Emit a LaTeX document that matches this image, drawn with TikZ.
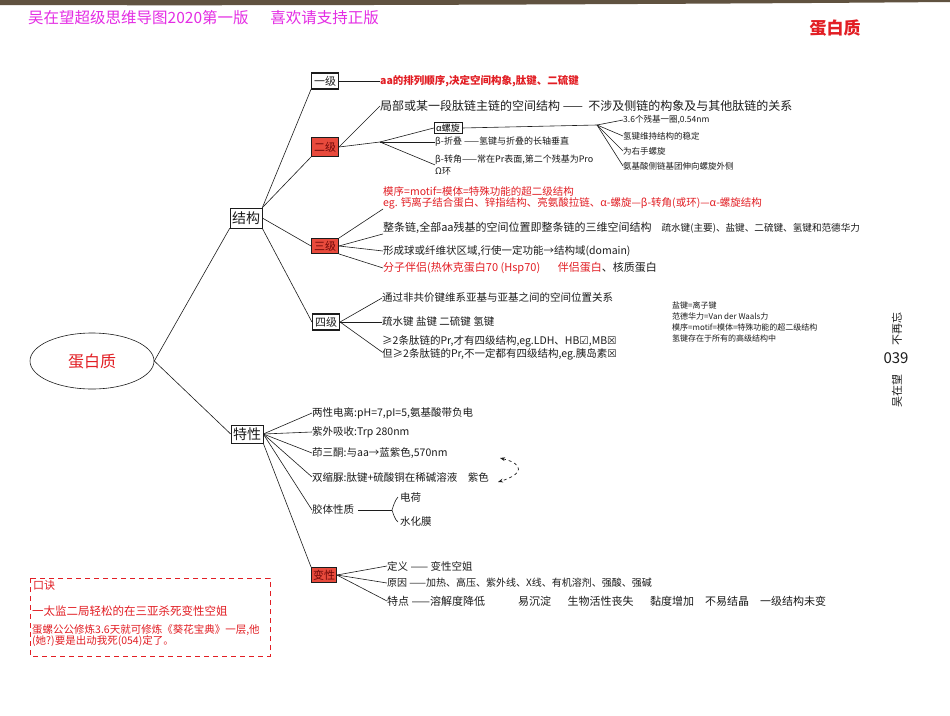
\documentclass[tikz,border=0pt]{standalone}
\usepackage{fontspec}
\setmainfont{Noto Sans CJK SC}
\newfontfamily\symfont{DejaVu Sans}
\usetikzlibrary{calc,shapes.geometric,arrows.meta}
\definecolor{ink}{RGB}{28,28,28}
\definecolor{hred}{RGB}{226,30,36}
\definecolor{boxred}{RGB}{232,74,60}
\definecolor{dred}{RGB}{110,8,8}
\definecolor{magenta}{RGB}{228,44,228}
\definecolor{paper}{RGB}{96,82,64}
\tikzset{
  lvlbox/.style={draw=ink, line width=1.1pt, fill=white, inner sep=1pt, text=ink,
                 font=\fontsize{11}{12}\selectfont},
  redbox/.style={draw=ink, line width=0.9pt, fill=boxred, inner sep=1pt, text=dred,
                 font=\fontsize{11}{12}\selectfont},
  topbox/.style={draw=ink, line width=0.6pt, fill=white, inner sep=1pt, text=ink,
                 font=\fontsize{14}{15}\selectfont},
  txt/.style={anchor=west, inner sep=0pt, text=ink, font=\fontsize{10.5}{11}\selectfont},
  redtxt/.style={txt, text=hred},
  small/.style={txt, font=\fontsize{8.5}{10}\selectfont},
  link/.style={draw=ink, line width=0.6pt},
}

\begin{document}
\begin{tikzpicture}[x=1pt,y=-1pt]
  \useasboundingbox (0,0) rectangle (950,715);
  \fill[white] (0,0) rectangle (950,715);
  % scanned paper edge
  \fill[paper] (0,0) -- (950,0) -- (950,2) .. controls (700,4) and (300,6) .. (0,5) -- cycle;

  % ---- headings ------------------------------------------------------
  \node[anchor=west, inner sep=0pt, text=magenta, font=\fontsize{15.5}{16}\selectfont] (head) at (28,18)
    {吴在望超级思维导图2020第一版\hspace{1.4em}喜欢请支持正版};
  \node[text=hred, font=\fontsize{17}{18}\selectfont\bfseries] (corner) at (835,28) {蛋白质};

  % ---- root and two main branches -----------------------------------
  \node[ellipse, draw=ink, line width=0.6pt, minimum width=124, minimum height=56, text=hred,
        font=\fontsize{16}{17}\selectfont] (root) at (92,361) {蛋白质};
  \node[topbox, minimum width=32, minimum height=20] (jg) at (246,218) {结构};
  \node[topbox, minimum width=32, minimum height=18] (tx) at (247,434) {特性};
  \draw[link] (root.east) -- (jg.south west);
  \draw[link] (root.east) -- (tx.west);

  % ---- structure levels ---------------------------------------------
  \node[lvlbox, minimum width=27, minimum height=16] (yj) at (325,81) {一级};
  \node[redbox, minimum width=27, minimum height=19] (ej) at (325,147) {二级};
  \node[redbox, minimum width=27, minimum height=15] (sj) at (325,246) {三级};
  \node[lvlbox, minimum width=27, minimum height=16] (sij) at (326,322) {四级};
  \draw[link] (jg.north east) -- (yj.south west);
  \draw[link] (jg.north east) -- (ej.south west);
  \draw[link] (jg.east) -- (sj.west);
  \draw[link] (jg.south east) -- (sij.west);

  % primary
  \node[redtxt, font=\fontsize{10.5}{11}\selectfont\bfseries] (yj1) at (380,81)
    {aa的排列顺序,决定空间构象,肽键、二硫键};
  \draw[link] (yj.east) -- (yj1.west);

  % secondary
  \node[txt, font=\fontsize{12}{13}\selectfont] (ej1) at (380,106)
    {局部或某一段肽链主链的空间结构\ —— \ 不涉及侧链的构象及与其他肽链的关系};
  \coordinate (bp2) at (380,142);
  \draw[link] (ej.east) -- (ej1.west);
  \draw[link] (ej.east) -- (bp2);
  \node[draw=ink, line width=0.5pt, inner sep=1pt, minimum width=28, minimum height=11,
        font=\fontsize{9}{10}\selectfont] (alpha) at (448,128) {α螺旋};
  \node[txt, font=\fontsize{9}{10}\selectfont] (beta1) at (435,142) {β-折叠 ——氢键与折叠的长轴垂直};
  \node[txt, font=\fontsize{9}{10}\selectfont] (beta2) at (435,160) {β-转角——常在Pr表面,第二个残基为Pro};
  \node[txt, font=\fontsize{9}{10}\selectfont] (omega) at (435,171) {Ω环};
  \draw[link] (bp2) -- (alpha.west);
  \draw[link] (bp2) -- (beta1.west);
  \draw[link] (bp2) -- (beta2.south west);

  \coordinate (bp3) at (597,125);
  \draw[link] (alpha.east) -- (bp3);
  \node[small] (a1) at (623,120) {3.6个残基一圈,0.54nm};
  \node[small] (a2) at (623,136) {氢键维持结构的稳定};
  \node[small] (a3) at (623,151) {为右手螺旋};
  \node[small] (a4) at (623,166) {氨基酸侧链基团伸向螺旋外侧};
  \draw[link] (bp3) -- (a1.west);
  \draw[link] (bp3) -- (a2.west);
  \draw[link] (bp3) -- (a3.west);
  \draw[link] (bp3) -- (a4.west);

  % tertiary
  \node[redtxt, anchor=south west, align=left] (sj1) at (383,209)
    {模序=motif=模体=特殊功能的超二级结构\\
     eg. 钙离子结合蛋白、锌指结构、亮氨酸拉链、α-螺旋—β-转角(或环)—α-螺旋结构};
  \node[txt, font=\fontsize{11}{12}\selectfont] (sj2) at (383,228)
    {整条链,全部aa残基的空间位置即整条链的三维空间结构\hspace{0.9em}{\fontsize{9.6}{11}\selectfont 疏水键(主要)、盐键、二硫键、氢键和范德华力}};
  \node[txt] (sj3) at (383,251) {形成球或纤维状区域,行使一定功能→结构域(domain)};
  \node[redtxt, font=\fontsize{11}{12}\selectfont] (sj4) at (383,268)
    {分子伴侣(热休克蛋白70 (Hsp70)\hspace{1.6em}伴侣蛋白\textcolor{ink}{、核质蛋白}};
  \draw[link] (sj.north east) -- (sj1.south west);
  \draw[link] (sj.east) -- (sj2.south west);
  \draw[link] (sj.east) -- (sj3.west);
  \draw[link] (sj.south east) -- (sj4.west);

  % quaternary
  \node[txt] (sij1) at (382,298) {通过非共价键维系亚基与亚基之间的空间位置关系};
  \node[txt] (sij2) at (382,322) {疏水键 盐键 二硫键 氢键};
  \node[txt, align=left] (sij3) at (382,348)
    {≥2条肽链的Pr,才有四级结构,eg.LDH、HB{\symfont ☑},MB{\symfont ☒}\\
     但≥2条肽链的Pr,不一定都有四级结构,eg.胰岛素{\symfont ☒}};
  \draw[link] (sij.east) -- (sij1.west);
  \draw[link] (sij.east) -- (sij2.west);
  \draw[link] (sij.east) -- ([yshift=-4pt]sij3.west);

  % side notes
  \node[txt, align=left, font=\fontsize{8}{11}\selectfont] (notes) at (672,322)
    {盐键=离子键\\范德华力=Van der Waals力\\模序=motif=模体=特殊功能的超二级结构\\氢键存在于所有的高级结构中};

  % page margin
  \node[rotate=90, inner sep=0pt, text=ink, font=\fontsize{11}{12}\selectfont] (slogan) at (897,329) {不再忘};
  \node[inner sep=0pt, text=ink, font=\fontsize{15}{16}\selectfont] (pageno) at (896,358) {039};
  \node[rotate=90, inner sep=0pt, text=ink, font=\fontsize{11}{12}\selectfont] (author) at (897,391) {吴在望};

  % ---- properties ---------------------------------------------------
  \node[txt] (tx1) at (312,413) {两性电离:pH=7,pI=5,氨基酸带负电};
  \node[txt] (tx2) at (312,432) {紫外吸收:Trp 280nm};
  \node[txt] (tx3) at (312,453) {茚三酮:与aa→蓝紫色,570nm};
  \node[txt] (tx4) at (312,477) {双缩脲:肽键+硫酸铜在稀碱溶液\hspace{1em}紫色};
  \node[txt] (tx5) at (312,510) {胶体性质};
  \node[txt] (dh) at (400,497) {电荷};
  \node[txt] (shm) at (400,522) {水化膜};
  \coordinate (brc) at (392,510);
  \draw[link] (tx.east) -- (tx1.west);
  \draw[link] (tx.east) -- (tx2.west);
  \draw[link] (tx.east) -- (tx3.west);
  \draw[link] (tx.east) -- (tx4.west);
  \draw[link] (tx.east) -- (tx5.west);
  \draw[link] ([xshift=4pt]tx5.east) -- (brc);
  \draw[link] ([xshift=-2pt]dh.west) .. controls ($(brc)+(3,-10)$) and ($(brc)+(1,-3)$) .. (brc)
    .. controls ($(brc)+(1,3)$) and ($(brc)+(3,10)$) .. ([xshift=-2pt]shm.west);

  \coordinate (da) at (500,458);
  \coordinate (db) at (498,482);
  \draw[ink, dashed, line width=0.7pt, {Stealth[length=5pt]}-{Stealth[length=5pt]}]
    (da) .. controls (524,464) and (524,474) .. (db);

  % denaturation
  \node[redbox, minimum width=25, minimum height=15] (bx) at (324,575) {变性};
  \draw[link] (tx.south east) -- (bx.north west);
  \node[txt] (by1) at (387,566) {定义 —— 变性空姐};
  \node[txt, font=\fontsize{10}{11}\selectfont] (by2) at (387,583) {原因 ——加热、高压、紫外线、X线、有机溶剂、强酸、强碱};
  \node[txt, font=\fontsize{11}{12}\selectfont] (by3) at (387,601)
    {特点 ——溶解度降低\hspace{3em}易沉淀\hspace{1.5em}生物活性丧失\hspace{1.5em}黏度增加\hspace{1em}不易结晶\hspace{1em}一级结构未变};
  \draw[link] (bx.east) -- (by1.west);
  \draw[link] (bx.east) -- (by2.west);
  \draw[link] (bx.east) -- (by3.west);

  % ---- mnemonic -------------------------------------------------------
  \draw[hred, line width=0.8pt, dash pattern=on 5pt off 4pt] (30,578) rectangle (270,656);
  \node[redtxt, font=\fontsize{11}{12}\selectfont] (kj0) at (33,585) {口诀};
  \node[redtxt, font=\fontsize{11.5}{12}\selectfont] (kj1) at (32,611) {一太监二局轻松的在三亚杀死变性空姐};
  \node[redtxt, align=left, font=\fontsize{10.5}{11}\selectfont] (kj2) at (32,636)
    {蛋螺公公修炼3.6天就可修炼《葵花宝典》一层,他\\(她?)要是出动我死(054)定了。};
\end{tikzpicture}
\end{document}
